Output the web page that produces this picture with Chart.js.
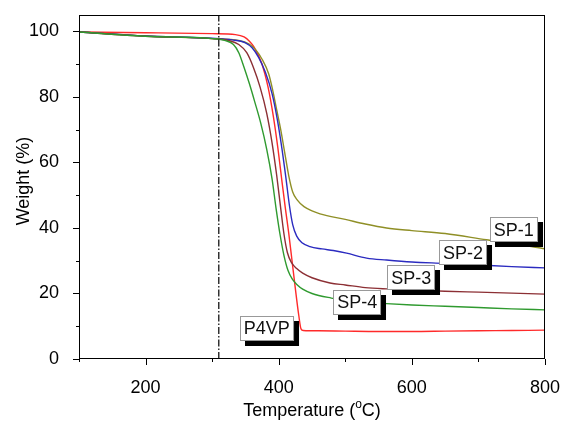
<!DOCTYPE html>
<html>
<head>
<meta charset="utf-8">
<script src="https://cdn.jsdelivr.net/npm/chart.js@4.4.1/dist/chart.umd.min.js"></script>
<style>
  body { margin: 0; background: #fff; }
  #wrap { width: 561px; height: 424px; position: relative; }
</style>
</head>
<body>
<div id="wrap"><canvas id="tgaChart"></canvas></div>
<script>
// TGA curves: temperature (°C) vs remaining weight (%)
const sp1Temp   = [100, 200, 300, 340, 355, 365, 375, 385, 391, 397, 403, 409, 415, 421, 428, 438, 450, 462, 500, 530, 562, 600, 650, 712, 750, 800];
const sp1Weight = [99.8, 98.6, 97.8, 97.2, 96.2, 94.5, 91.5, 87, 82, 76, 70, 63, 56, 51, 48.5, 46.5, 45.2, 44.3, 42.6, 41.2, 40.0, 39.2, 38.3, 36.4, 35.3, 33.6];

const sp2Temp   = [100, 200, 300, 330, 350, 360, 370, 380, 390, 398, 405, 411, 416, 421, 427, 435, 447, 465, 482, 502, 532, 562, 600, 650, 700, 750, 800];
const sp2Weight = [99.8, 98.6, 97.9, 97.4, 96.5, 95.0, 92.0, 87.5, 81, 73, 64, 55, 47, 41, 37.5, 35.5, 34.3, 33.6, 33.1, 32.3, 30.8, 30.2, 29.6, 29.2, 28.7, 28.2, 27.8];

const sp3Temp   = [100, 200, 300, 325, 340, 352, 362, 372, 382, 390, 397, 403, 408, 413, 419, 427, 436, 450, 477, 500, 530, 562, 600, 650, 700, 750, 800];
const sp3Weight = [99.8, 98.5, 97.8, 97.2, 96.0, 93.5, 89, 83, 75, 66, 56, 46, 38, 32.5, 29.5, 27.6, 26.2, 24.8, 23.2, 22.6, 21.8, 21.4, 21.1, 20.7, 20.4, 20.1, 19.8];

const sp4Temp   = [100, 200, 300, 320, 332, 340, 348, 356, 364, 373, 382, 390, 396, 402, 408, 414, 421, 428, 436, 450, 479, 500, 530, 562, 600, 650, 700, 750, 800];
const sp4Weight = [99.8, 98.5, 97.8, 97.2, 96.0, 93.5, 89, 84, 78.5, 72, 64, 55, 46, 38, 31.5, 27, 24.2, 22.6, 21.3, 20.0, 18.6, 17.9, 17.3, 16.9, 16.5, 16.1, 15.7, 15.3, 15.0];

const p4vpTemp   = [100, 200, 300, 335, 348, 356, 363, 374, 384, 392, 399, 405, 410, 415, 420, 425, 430, 433.5, 437, 460, 500, 550, 600, 650, 700, 750, 800];
const p4vpWeight = [99.8, 99.6, 99.3, 99.0, 98.3, 97.0, 95.2, 90.5, 83, 74, 64, 54, 46, 38.5, 30, 21.5, 13.5, 9.2, 8.7, 8.6, 8.5, 8.4, 8.4, 8.5, 8.6, 8.7, 8.8];

const onsetTemp = 310;   // dash-dot marker

const xTicks = [200, 400, 600, 800];
const yTicks = [0, 20, 40, 60, 80, 100];

// curve name tags, placed in data units
const tags = [
  { text: 'SP-1', t: 753, w: 39.5 },
  { text: 'SP-2', t: 677, w: 32.4 },
  { text: 'SP-3', t: 599, w: 24.8 },
  { text: 'SP-4', t: 518, w: 17.3 },
  { text: 'P4VP', t: 382, w: 9.4 }
];

const FONT = '"Liberation Sans", Arial, sans-serif';

function pts(xs, ys) {
  return xs.map((x, i) => ({ x: x, y: ys[i] }));
}

function curve(label, xs, ys, color) {
  return {
    label: label,
    data: pts(xs, ys),
    borderColor: color,
    borderWidth: 1.4,
    pointRadius: 0,
    cubicInterpolationMode: 'monotone',
    fill: false
  };
}

// frame, tick marks, axis titles and name tags
const decor = {
  id: 'decor',
  afterDatasetsDraw(chart) {
    const ctx = chart.ctx;
    const xs = chart.scales.x, ys = chart.scales.y;
    const a = chart.chartArea;
    ctx.save();

    // tags with drop shadow
    ctx.font = '18px ' + FONT;
    ctx.textAlign = 'center';
    ctx.textBaseline = 'middle';
    tags.forEach(tg => {
      const cx = xs.getPixelForValue(tg.t);
      const cy = ys.getPixelForValue(tg.w);
      const bw = ctx.measureText(tg.text).width + 8;
      const bh = 25;
      const x0 = Math.round(cx - bw / 2), y0 = Math.round(cy - bh / 2);
      ctx.fillStyle = '#000';
      ctx.fillRect(x0 + 5, y0 + 5, bw, bh);
      ctx.fillStyle = '#fff';
      ctx.fillRect(x0, y0, bw, bh);
      ctx.strokeStyle = '#999';
      ctx.lineWidth = 1;
      ctx.strokeRect(x0 + 0.5, y0 + 0.5, bw - 1, bh - 1);
      ctx.fillStyle = '#111';
      ctx.fillText(tg.text, cx, cy + 1);
    });

    // plot frame
    ctx.strokeStyle = '#000';
    ctx.lineWidth = 1;
    ctx.strokeRect(Math.round(a.left) + 0.5, Math.round(a.top) + 0.5,
                   Math.round(a.right - a.left) - 1, Math.round(a.bottom - a.top) - 1);

    // outward ticks, minor every half step
    ctx.beginPath();
    for (let v = 100; v <= 800; v += 100) {
      const px = Math.round(xs.getPixelForValue(v)) + 0.5;
      const len = v % 200 === 0 ? 6 : 3;
      ctx.moveTo(px, a.bottom);
      ctx.lineTo(px, a.bottom + len);
    }
    for (let v = 0; v <= 100; v += 10) {
      const py = Math.round(ys.getPixelForValue(v)) + 0.5;
      const len = v % 20 === 0 ? 6 : 3;
      ctx.moveTo(a.left, py);
      ctx.lineTo(a.left - len, py);
    }
    ctx.stroke();

    // axis titles
    ctx.fillStyle = '#000';
    ctx.font = '18px ' + FONT;
    ctx.textBaseline = 'middle';
    ctx.textAlign = 'left';
    const p1 = 'Temperature (', sup = 'o', p2 = 'C)';
    const w1 = ctx.measureText(p1).width, w3 = ctx.measureText(p2).width;
    ctx.font = '12px ' + FONT;
    const w2 = ctx.measureText(sup).width;
    const total = w1 + w2 + w3;
    let tx = (a.left + a.right) / 2 - total / 2;
    const ty = 411;
    ctx.font = '18px ' + FONT;
    ctx.fillText(p1, tx, ty);
    ctx.font = '12px ' + FONT;
    ctx.fillText(sup, tx + w1, ty - 6);
    ctx.font = '18px ' + FONT;
    ctx.fillText(p2, tx + w1 + w2, ty);

    ctx.translate(24, 181);
    ctx.rotate(-Math.PI / 2);
    ctx.textAlign = 'center';
    ctx.fillText('Weight (%)', 0, 0);
    ctx.restore();
  }
};

const ctx = document.getElementById('tgaChart').getContext('2d');

const tgaChart = new Chart(ctx, {
  type: 'line',
  data: {
    datasets: [
      {
        label: 'onset',
        data: [{ x: onsetTemp, y: 0 }, { x: onsetTemp, y: 105 }],
        borderColor: '#000',
        borderWidth: 1.2,
        borderDash: [7, 2, 1.5, 2],
        pointRadius: 0
      },
      curve('SP-4', sp4Temp, sp4Weight, '#2f9a2f'),
      curve('SP-3', sp3Temp, sp3Weight, '#8c2f34'),
      curve('SP-2', sp2Temp, sp2Weight, '#2b2bc0'),
      curve('SP-1', sp1Temp, sp1Weight, '#8f8f26'),
      curve('P4VP', p4vpTemp, p4vpWeight, '#ff2a2a')
    ]
  },
  options: {
    responsive: true,
    maintainAspectRatio: false,
    animation: false,
    layout: { padding: { top: 15, right: 16, left: 0, bottom: 0 } },
    plugins: {
      legend: { display: false },
      tooltip: { enabled: false }
    },
    scales: {
      x: {
        type: 'linear',
        min: 100,
        max: 800,
        grid: { display: false },
        border: { display: false },
        afterBuildTicks: s => { s.ticks = xTicks.map(v => ({ value: v })); },
        afterFit: s => {
          s.height = 65;
          s.paddingLeft = 0; s.paddingRight = 0;
        },
        ticks: {
          color: '#000',
          padding: 10,
          maxRotation: 0,
          font: { family: FONT, size: 18 }
        }
      },
      y: {
        type: 'linear',
        min: 0,
        max: 105,
        grid: { display: false },
        border: { display: false },
        afterBuildTicks: s => { s.ticks = yTicks.map(v => ({ value: v })); },
        afterFit: s => {
          s.width = 79;
          s.paddingTop = 0; s.paddingBottom = 0;
        },
        ticks: {
          color: '#000',
          padding: 12,
          font: { family: FONT, size: 18 }
        }
      }
    }
  },
  plugins: [decor]
});
</script>
</body>
</html>
